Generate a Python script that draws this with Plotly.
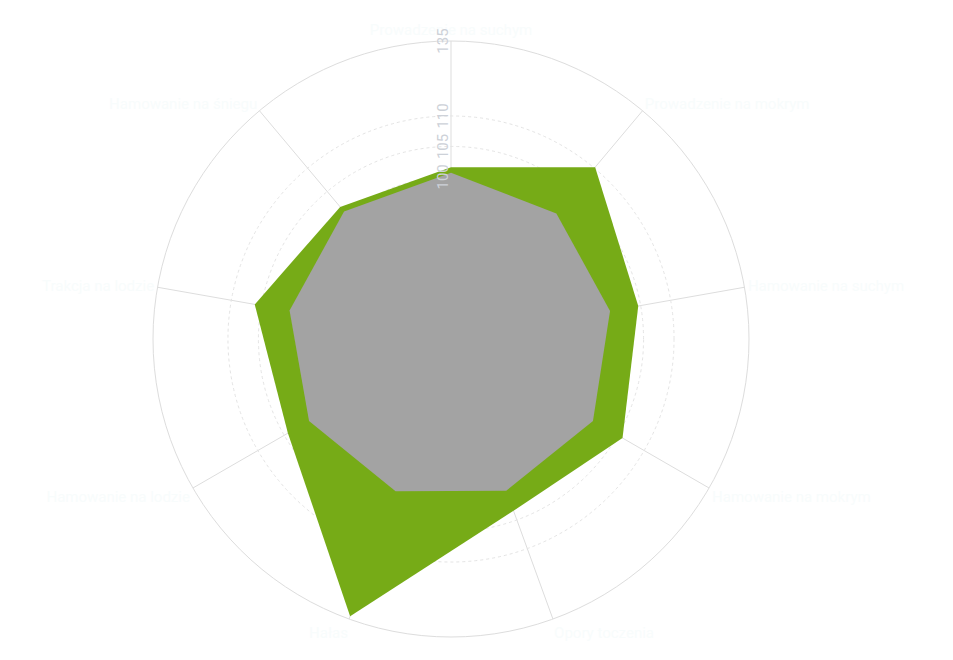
import plotly.graph_objects as go

# categories (clockwise from the top)
categories = [
    "Prowadzenie na suchym",
    "Prowadzenie na mokrym",
    "Hamowanie na suchym",
    "Hamowanie na mokrym",
    "Opory toczenia",
    "Hałas",
    "Hamowanie na lodzie",
    "Trakcja na lodzie",
    "Hamowanie na śniegu",
]

# series values
green_values = [101.6, 110.2, 104.6, 105.9, 103.4, 121.8, 104.3, 106.1, 101.7]
gray_values = [100.7, 100.3, 99.9, 100.3, 99.9, 100.0, 100.3, 100.3, 100.7]

tick_vals = [100, 105, 110, 122.3]
tick_text = ["100", "105", "110", "135"]

fig = go.Figure()

fig.add_trace(go.Scatterpolar(
    r=green_values + green_values[:1],
    theta=categories + categories[:1],
    fill="toself",
    fillcolor="#76ab17",
    line=dict(color="#76ab17", width=0),
    mode="lines",
    name="B",
))

fig.add_trace(go.Scatterpolar(
    r=gray_values + gray_values[:1],
    theta=categories + categories[:1],
    fill="toself",
    fillcolor="#a3a3a3",
    line=dict(color="#a3a3a3", width=0),
    mode="lines",
    name="A",
))

fig.update_layout(
    width=953,
    height=660,
    showlegend=False,
    paper_bgcolor="white",
    margin=dict(l=145, r=212, t=33, b=31),
    font=dict(family="Roboto, sans-serif"),
    polar=dict(
        bgcolor="white",
        radialaxis=dict(
            range=[73.4, 122.3],
            tickvals=tick_vals,
            ticktext=tick_text,
            angle=90,
            tickangle=360,
            side="counterclockwise",
            showline=False,
            ticks="",
            gridcolor="#e4e4e4",
            griddash="dot",
            tickfont=dict(size=15, color="#cdd1d8"),
            layer="above traces",
        ),
        angularaxis=dict(
            direction="clockwise",
            rotation=90,
            linecolor="#dddddd",
            gridcolor="#dddddd",
            ticks="",
            tickfont=dict(size=15, color="#f8fcfc"),
            layer="above traces",
        ),
    ),
)

fig.write_html("out.html")
